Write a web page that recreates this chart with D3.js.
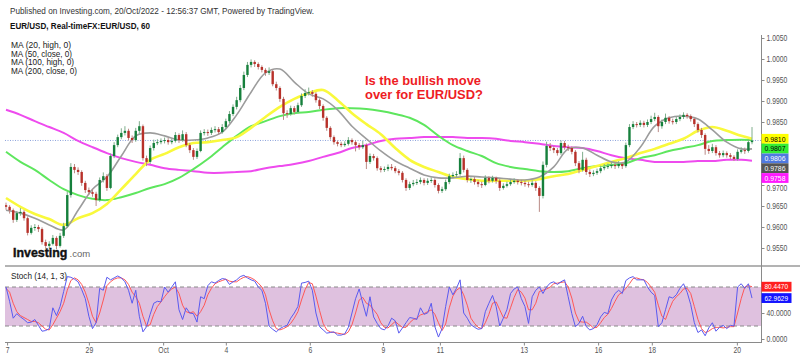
<!DOCTYPE html>
<html><head><meta charset="utf-8">
<script src="https://cdn.jsdelivr.net/npm/d3@7"></script>
<style>body{margin:0;background:#fff;} svg{display:block;font-family:"Liberation Sans",Arial,sans-serif;}</style>
</head><body><svg id="c" width="800" height="357"></svg>
<script>
// ---------- DATA (2-hour candles, EUR/USD) ----------
const firstOpen = 0.9652;
const closes = [0.9648,0.9640,0.9617,0.9633,0.9636,0.9621,0.9586,0.9598,0.9600,0.9595,
0.9564,0.9555,0.9560,0.9574,0.9555,0.9579,0.9602,0.9676,0.9743,0.9736,
0.9731,0.9705,0.9688,0.9683,0.9679,0.9664,0.9712,0.9721,0.9693,0.9769,
0.9795,0.9814,0.9824,0.9829,0.9812,0.9807,0.9829,0.9840,0.9764,0.9755,
0.9788,0.9800,0.9802,0.9805,0.9807,0.9802,0.9805,0.9819,0.9807,0.9821,
0.9795,0.9783,0.9767,0.9781,0.9824,0.9826,0.9824,0.9831,0.9833,0.9826,
0.9838,0.9852,0.9869,0.9886,0.9902,0.9931,0.9962,0.9986,0.9993,0.9988,
0.9981,0.9974,0.9967,0.9971,0.9940,0.9931,0.9905,0.9871,0.9869,0.9883,
0.9874,0.9890,0.9912,0.9919,0.9921,0.9917,0.9902,0.9888,0.9860,0.9836,
0.9814,0.9802,0.9798,0.9795,0.9798,0.9807,0.9802,0.9795,0.9790,0.9795,
0.9755,0.9769,0.9764,0.9740,0.9736,0.9738,0.9743,0.9740,0.9733,0.9729,
0.9712,0.9693,0.9702,0.9705,0.9707,0.9712,0.9705,0.9710,0.9712,0.9700,
0.9686,0.9690,0.9707,0.9721,0.9724,0.9726,0.9764,0.9736,0.9712,0.9714,
0.9707,0.9702,0.9700,0.9717,0.9710,0.9717,0.9710,0.9693,0.9698,0.9702,
0.9707,0.9710,0.9707,0.9705,0.9702,0.9700,0.9705,0.9693,0.9674,0.9748,
0.9793,0.9788,0.9783,0.9776,0.9800,0.9790,0.9788,0.9779,0.9752,0.9736,
0.9760,0.9731,0.9726,0.9729,0.9733,0.9740,0.9743,0.9745,0.9748,0.9745,
0.9750,0.9745,0.9795,0.9838,0.9845,0.9843,0.9848,0.9843,0.9850,0.9857,
0.9862,0.9840,0.9850,0.9860,0.9852,0.9850,0.9857,0.9862,0.9867,0.9864,
0.9857,0.9845,0.9831,0.9819,0.9786,0.9781,0.9790,0.9776,0.9771,0.9776,
0.9771,0.9767,0.9762,0.9779,0.9783,0.9781,0.9802,0.9806];
const highs = [0.9658,0.9652,0.9644,0.9638,0.9645,0.9640,0.9625,0.9604,0.9607,0.9605,
0.9599,0.9570,0.9566,0.9581,0.9578,0.9586,0.9610,0.9684,0.9752,0.9750,
0.9742,0.9735,0.9710,0.9694,0.9690,0.9684,0.9718,0.9730,0.9726,0.9775,
0.9802,0.9820,0.9835,0.9840,0.9834,0.9818,0.9836,0.9852,0.9844,0.9770,
0.9794,0.9808,0.9809,0.9811,0.9813,0.9812,0.9810,0.9826,0.9823,0.9830,
0.9826,0.9800,0.9788,0.9787,0.9830,0.9833,0.9832,0.9837,0.9840,0.9838,
0.9845,0.9858,0.9876,0.9892,0.9910,0.9938,0.9970,0.9993,0.9999,0.9997,
0.9992,0.9985,0.9978,0.9980,0.9975,0.9946,0.9935,0.9910,0.9878,0.9889,
0.9888,0.9896,0.9918,0.9928,0.9932,0.9926,0.9921,0.9906,0.9892,0.9864,
0.9840,0.9818,0.9806,0.9803,0.9804,0.9814,0.9811,0.9806,0.9800,0.9805,
0.9799,0.9775,0.9774,0.9768,0.9745,0.9744,0.9749,0.9750,0.9745,0.9738,
0.9733,0.9716,0.9708,0.9712,0.9714,0.9718,0.9716,0.9716,0.9718,0.9716,
0.9704,0.9696,0.9713,0.9727,0.9730,0.9733,0.9776,0.9770,0.9740,0.9718,
0.9719,0.9712,0.9708,0.9723,0.9721,0.9722,0.9720,0.9714,0.9704,0.9708,
0.9713,0.9716,0.9714,0.9712,0.9710,0.9708,0.9711,0.9709,0.9697,0.9756,
0.9803,0.9800,0.9793,0.9788,0.9806,0.9805,0.9796,0.9792,0.9783,0.9757,
0.9779,0.9765,0.9737,0.9735,0.9739,0.9746,0.9750,0.9751,0.9754,0.9753,
0.9757,0.9755,0.9801,0.9845,0.9852,0.9850,0.9854,0.9853,0.9856,0.9865,
0.9872,0.9866,0.9856,0.9870,0.9864,0.9858,0.9863,0.9868,0.9873,0.9871,
0.9868,0.9861,0.9849,0.9836,0.9823,0.9795,0.9798,0.9795,0.9781,0.9782,
0.9780,0.9776,0.9771,0.9785,0.9790,0.9789,0.9808,0.9838];
const lows = [0.9641,0.9632,0.9610,0.9612,0.9627,0.9615,0.9580,0.9582,0.9591,0.9588,
0.9558,0.9548,0.9549,0.9556,0.9547,0.9551,0.9574,0.9598,0.9670,0.9728,
0.9724,0.9698,0.9681,0.9676,0.9672,0.9650,0.9660,0.9706,0.9686,0.9690,
0.9764,0.9790,0.9809,0.9818,0.9806,0.9800,0.9803,0.9822,0.9758,0.9745,
0.9750,0.9782,0.9795,0.9797,0.9799,0.9796,0.9797,0.9801,0.9800,0.9803,
0.9790,0.9776,0.9760,0.9762,0.9778,0.9818,0.9817,0.9819,0.9825,0.9820,
0.9822,0.9833,0.9847,0.9864,0.9880,0.9897,0.9926,0.9957,0.9980,0.9981,
0.9975,0.9968,0.9960,0.9962,0.9935,0.9925,0.9898,0.9855,0.9860,0.9865,
0.9868,0.9870,0.9886,0.9907,0.9913,0.9910,0.9896,0.9881,0.9853,0.9829,
0.9808,0.9796,0.9792,0.9790,0.9791,0.9794,0.9796,0.9780,0.9784,0.9786,
0.9738,0.9750,0.9758,0.9734,0.9730,0.9731,0.9733,0.9735,0.9728,0.9723,
0.9706,0.9686,0.9688,0.9697,0.9700,0.9702,0.9699,0.9700,0.9705,0.9694,
0.9680,0.9681,0.9686,0.9702,0.9716,0.9719,0.9722,0.9730,0.9706,0.9705,
0.9701,0.9695,0.9693,0.9697,0.9704,0.9706,0.9703,0.9686,0.9689,0.9694,
0.9698,0.9703,0.9701,0.9699,0.9696,0.9694,0.9696,0.9686,0.9636,0.9668,
0.9742,0.9781,0.9776,0.9770,0.9772,0.9784,0.9781,0.9773,0.9745,0.9728,
0.9732,0.9724,0.9719,0.9721,0.9724,0.9728,0.9735,0.9738,0.9740,0.9738,
0.9740,0.9738,0.9741,0.9790,0.9833,0.9837,0.9838,0.9837,0.9838,0.9845,
0.9852,0.9826,0.9834,0.9845,0.9846,0.9844,0.9845,0.9852,0.9857,0.9858,
0.9851,0.9838,0.9825,0.9812,0.9772,0.9774,0.9776,0.9770,0.9765,0.9766,
0.9765,0.9761,0.9757,0.9758,0.9775,0.9774,0.9777,0.9797];

// moving averages, read at these candle indices
const maIdx = [0,4,8,12,16,20,24,28,32,36,40,44,48,52,56,60,64,68,72,76,80,84,88,92,96,100,
104,108,112,116,120,124,128,132,136,140,144,148,152,156,160,164,168,172,176,180,184,188,192,196,200,204,207];
const ma20High = [0.9640,0.9633,0.9621,0.9605,0.9593,0.9640,0.9690,0.9719,0.9769,0.9817,0.9824,0.9817,0.9807,0.9807,0.9812,0.9826,0.9867,0.9921,0.9967,0.9976,0.9945,0.9917,0.9905,0.9879,0.9840,0.9810,0.9781,0.9757,0.9740,0.9724,0.9717,0.9717,0.9721,0.9719,0.9717,0.9714,0.9712,0.9719,0.9743,0.9786,0.9788,0.9771,0.9755,0.9755,0.9790,0.9840,0.9860,0.9864,0.9857,0.9831,0.9802,0.9786,0.9786];
const ma50Close = [0.9669,0.9648,0.9631,0.9619,0.9605,0.9621,0.9633,0.9655,0.9690,0.9726,0.9760,0.9774,0.9790,0.9800,0.9802,0.9807,0.9814,0.9836,0.9862,0.9886,0.9905,0.9919,0.9926,0.9902,0.9871,0.9845,0.9821,0.9788,0.9760,0.9743,0.9731,0.9719,0.9714,0.9710,0.9710,0.9710,0.9710,0.9714,0.9721,0.9726,0.9736,0.9745,0.9755,0.9764,0.9776,0.9786,0.9798,0.9810,0.9829,0.9838,0.9829,0.9817,0.9810];
const ma100High = [0.9779,0.9755,0.9736,0.9712,0.9690,0.9676,0.9667,0.9664,0.9671,0.9681,0.9693,0.9702,0.9717,0.9738,0.9762,0.9790,0.9817,0.9840,0.9852,0.9864,0.9871,0.9874,0.9879,0.9883,0.9883,0.9881,0.9876,0.9869,0.9860,0.9843,0.9817,0.9795,0.9781,0.9769,0.9752,0.9743,0.9738,0.9733,0.9731,0.9733,0.9740,0.9745,0.9748,0.9752,0.9764,0.9771,0.9781,0.9788,0.9795,0.9805,0.9807,0.9808,0.9807];
const ma200Close = [0.9879,0.9867,0.9852,0.9838,0.9824,0.9805,0.9790,0.9776,0.9764,0.9755,0.9748,0.9740,0.9736,0.9733,0.9729,0.9729,0.9731,0.9733,0.9740,0.9745,0.9750,0.9757,0.9767,0.9776,0.9788,0.9795,0.9805,0.9810,0.9812,0.9814,0.9814,0.9814,0.9812,0.9812,0.9810,0.9805,0.9802,0.9798,0.9793,0.9790,0.9788,0.9781,0.9771,0.9764,0.9760,0.9755,0.9755,0.9755,0.9757,0.9757,0.9760,0.9760,0.9758];

// stochastic (14,1,3), one value per candle
const stochK = [80,58,32,39,34,30,25,26,30,21, 12,13,16,48,36,50,73,96,95,92, 88,76,62,35,16,25,78,75,95,91,
94,97,94,88,75,55,75,35,11,19, 38,55,58,57,80,72,80,88,45,30, 48,40,39,26,65,62,82,88,86,90,
93,92,84,88,91,96,98,94,91,89, 80,75,55,20,15,11,16,19,21,32, 40,50,86,87,89,75,40,19,14,9,
10,11,6,6,8,18,40,62,77,55, 35,65,34,24,16,14,20,32,28,9, 17,25,33,32,30,48,38,40,55,19,
3,16,50,80,68,78,91,40,32,22, 18,15,16,42,55,67,50,20,32,45, 70,77,80,62,50,24,65,75,80,70,
80,86,88,84,88,91,65,39,19,24, 35,19,14,16,22,34,41,39,60,70, 75,70,90,94,96,91,91,91,80,72,
67,19,25,45,65,63,68,78,85,72, 53,25,10,14,5,17,25,12,18,21, 16,21,20,80,85,78,85,62.9629];
const stochD = [78,72,55,42,36,33,30,27,27,25, 20,15,14,22,32,42,55,75,90,94, 91,84,72,55,35,25,40,60,82,88,
92,94,94,91,84,72,65,55,35,20, 22,38,50,57,65,72,77,80,70,52, 42,40,42,35,42,52,68,78,85,88,
90,92,89,88,88,92,95,96,94,91, 86,80,68,45,28,16,14,16,19,24, 32,42,60,76,87,85,66,44,24,14,
11,10,9,8,7,11,22,40,60,64, 55,52,45,38,25,18,17,22,27,22, 18,18,25,30,32,37,39,42,45,38,
25,13,23,48,66,75,79,68,52,32, 24,18,16,25,38,55,57,45,33,32, 48,64,76,72,63,45,45,55,73,75,
77,80,85,86,87,88,80,63,40,27, 26,26,22,17,18,25,33,38,47,58, 68,72,78,85,93,94,92,91,87,80,
72,52,35,30,45,58,65,70,77,78, 70,50,30,16,10,12,16,18,18,17, 18,19,19,40,62,80,82,80.4470];

const priceTicks = [1.005,1.0,0.995,0.99,0.985,0.98,0.975,0.97,0.965,0.96,0.955];
const stochTicks = [0,40,80];
const dateIdx = [0.3,23,43.6,61,84.3,104.6,120.4,143.7,164.3,179.2,202.8];
const dateLabels = ["7","29","Oct","4","6","9","11","13","16","18","20"];
const maLegend = ["MA (20, high, 0)","MA (50, close, 0)","MA (100, high, 0)","MA (200, close, 0)"];

// ---------- CHART ----------
const svg = d3.select("#c");
const L = 5, R = 761;
const x = d3.scaleLinear().domain([0, closes.length - 1]).range([6, 752]);
const yP = d3.scaleLinear().domain([0.955, 1.005]).range([248, 38]);
const yS = d3.scaleLinear().domain([0, 100]).range([339, 274]);
const fmt4 = d3.format(".4f");
const opens = closes.map((c, i) => i === 0 ? firstOpen : closes[i - 1]);

function condense(sel, f) {
  sel.each(function () {
    const w = this.getComputedTextLength();
    d3.select(this).attr("textLength", w * f).attr("lengthAdjust", "spacingAndGlyphs");
  });
}

const defs = svg.append("defs");
defs.append("clipPath").attr("id", "cm").append("rect").attr("x", L).attr("y", 30).attr("width", R - L).attr("height", 236);
defs.append("clipPath").attr("id", "cs").append("rect").attr("x", L).attr("y", 267).attr("width", R - L).attr("height", 75);

// stoch band
svg.append("rect").attr("x", L).attr("width", R - L).attr("y", yS(80)).attr("height", yS(20) - yS(80)).attr("fill", "#dfc1df");
[80, 20].forEach(v => svg.append("line").attr("x1", L).attr("x2", R).attr("y1", yS(v)).attr("y2", yS(v))
  .attr("stroke", "#8a8a8a").attr("stroke-dasharray", "4,3").attr("stroke-width", 1));

// frame lines
svg.append("line").attr("x1", L).attr("x2", 800).attr("y1", 266).attr("y2", 266).attr("stroke", "#9a9a9a").attr("stroke-width", 1.5);
svg.append("line").attr("x1", L).attr("x2", R).attr("y1", 342.5).attr("y2", 342.5).attr("stroke", "#8a8a8a");
svg.append("line").attr("x1", R + 0.5).attr("x2", R + 0.5).attr("y1", 35).attr("y2", 343).attr("stroke", "#8a8a8a");

// price line (last close)
const lastClose = closes[closes.length - 1];
svg.append("line").attr("x1", L).attr("x2", R).attr("y1", yP(lastClose)).attr("y2", yP(lastClose))
  .attr("stroke", "#8ea4dc").attr("stroke-dasharray", "1,1.5").attr("stroke-width", 1);

// MAs
const gm = svg.append("g").attr("clip-path", "url(#cm)");
const maDefs = [
  {v: ma200Close, c: "#ee4bee", w: 2},
  {v: ma100High, c: "#5ee65e", w: 2},
  {v: ma50Close, c: "#f9f93c", w: 2.6},
  {v: ma20High, c: "#9c9c9c", w: 1.6}
];
const line = d3.line().x((d, i) => x(maIdx[i])).y(d => yP(d)).curve(d3.curveCatmullRom);
maDefs.forEach(m => gm.append("path").attr("d", line(m.v)).attr("fill", "none").attr("stroke", m.c).attr("stroke-width", m.w));

// candles
const gc = gm.append("g");
closes.forEach((c, i) => {
  const o = opens[i], up = c >= o;
  gc.append("line").attr("x1", x(i)).attr("x2", x(i)).attr("y1", yP(highs[i])).attr("y2", yP(lows[i]))
    .attr("stroke", up ? "#7fae8c" : "#b98a86").attr("stroke-width", 1);
  const y0 = yP(Math.max(o, c)), y1 = yP(Math.min(o, c));
  gc.append("rect").attr("x", x(i) - 1.2).attr("width", 2.4).attr("y", y0).attr("height", Math.max(1, y1 - y0))
    .attr("fill", up ? "#16803c" : "#b8312a");
});

// stochastic lines
const gs = svg.append("g").attr("clip-path", "url(#cs)");
const sline = d3.line().x((d, i) => x(i)).y(d => yS(d));
gs.append("path").attr("d", sline(stochD)).attr("fill", "none").attr("stroke", "#ff5757").attr("stroke-width", 1);
gs.append("path").attr("d", sline(stochK)).attr("fill", "none").attr("stroke", "#5a5af0").attr("stroke-width", 1);

// right-side value tags (computed first so covered tick labels can be skipped)
const tags = [
  {v: ma50Close[ma50Close.length - 1], bg: "#ffff00", fg: "#000"},
  {v: ma100High[ma100High.length - 1], bg: "#33ee33", fg: "#000"},
  {v: lastClose, bg: "#4f79e0", fg: "#fff"},
  {v: ma20High[ma20High.length - 1], bg: "#555555", fg: "#fff"},
  {v: ma200Close[ma200Close.length - 1], bg: "#ff19ff", fg: "#fff"}
].map(t => Object.assign(t, {y: yP(t.v)})).sort((a, b) => a.y - b.y);
let prev = -Infinity;
tags.forEach(t => { t.y = Math.max(t.y, prev + 9.8); prev = t.y; });
const stags = [
  {v: stochD[stochD.length - 1], bg: "#ff1f1f", fg: "#fff", y: yS(stochD[stochD.length - 1])},
  {v: stochK[stochK.length - 1], bg: "#1414ff", fg: "#fff", y: yS(stochK[stochK.length - 1])}
];
const allTags = [...tags, ...stags];
const nearest = yy => d3.min(allTags, t => Math.abs(t.y - yy));

// axes
const ap = svg.append("g").attr("transform", `translate(${R + 0.5},0)`)
  .call(d3.axisRight(yP).tickValues(priceTicks).tickFormat(fmt4).tickSize(3).tickPadding(2));
const as = svg.append("g").attr("transform", `translate(${R + 0.5},0)`)
  .call(d3.axisRight(yS).tickValues(stochTicks).tickFormat(fmt4).tickSize(3).tickPadding(2));
const ax = svg.append("g").attr("transform", "translate(0,342.5)")
  .call(d3.axisBottom(x).tickValues(dateIdx).tickFormat((d, i) => dateLabels[i]).tickSize(3).tickPadding(1));
ap.selectAll(".tick").filter(d => nearest(yP(d)) < 6.5).select("text").remove();
as.selectAll(".tick").filter(d => nearest(yS(d)) < 6.5).select("text").remove();
// labels partly hidden under a tag: nudge them clear of it
ap.selectAll(".tick text").each(function (d) {
  const dist = nearest(yP(d));
  if (dist < 10) d3.select(this).attr("y", 10 - dist);
});
[ap, as, ax].forEach(g => {
  g.select(".domain").remove();
  g.selectAll("line").attr("stroke", "#8a8a8a");
  g.selectAll("text").attr("fill", "#555").attr("font-size", "8.5px").attr("font-family", "Liberation Sans, Arial, sans-serif");
  condense(g.selectAll("text"), 0.8);
});

allTags.forEach(t => {
  const txt = fmt4(t.v);
  const w = txt.length > 6 ? 30 : 27;
  svg.append("rect").attr("x", R + 0.5).attr("y", t.y - 4.9).attr("width", w).attr("height", 9.8).attr("fill", t.bg);
  svg.append("text").attr("x", R + 3.5).attr("y", t.y).attr("dy", "0.34em").attr("font-size", "8px")
    .attr("fill", t.fg).attr("textLength", txt.length > 6 ? 23.5 : 21).attr("lengthAdjust", "spacingAndGlyphs").text(txt);
});

// header texts
svg.append("text").attr("x", 10).attr("y", 14).attr("font-size", "9.5px").attr("fill", "#333")
  .attr("textLength", 304).attr("lengthAdjust", "spacingAndGlyphs")
  .text("Published on Investing.com, 20/Oct/2022 - 12:56:37 GMT, Powered by TradingView.");
svg.append("text").attr("x", 10).attr("y", 28.5).attr("font-size", "9.5px").attr("font-weight", "bold").attr("fill", "#111")
  .attr("textLength", 140).attr("lengthAdjust", "spacingAndGlyphs").text("EUR/USD, Real-timeFX:EUR/USD, 60");
const legW = [60, 61, 63, 66];
maLegend.forEach((s, i) => svg.append("text").attr("x", 11).attr("y", 48 + i * 8.7).attr("font-size", "8.6px").attr("fill", "#222")
  .attr("textLength", legW[i]).attr("lengthAdjust", "spacingAndGlyphs").text(s));
svg.append("text").attr("x", 11).attr("y", 279).attr("font-size", "8.6px").attr("fill", "#222")
  .attr("textLength", 56).attr("lengthAdjust", "spacingAndGlyphs").text("Stoch (14, 1, 3)");

// annotation
svg.append("text").attr("x", 365).attr("y", 84.5).attr("font-size", "13px").attr("font-weight", "bold").attr("fill", "#ee1c24")
  .attr("textLength", 116).attr("lengthAdjust", "spacingAndGlyphs").text("Is the bullish move");
svg.append("text").attr("x", 365).attr("y", 98.5).attr("font-size", "13px").attr("font-weight", "bold").attr("fill", "#ee1c24")
  .attr("textLength", 118).attr("lengthAdjust", "spacingAndGlyphs").text("over for EUR/USD?");

// logo
svg.append("text").attr("x", 13).attr("y", 256.5).attr("font-size", "12.4px").attr("font-weight", "bold").attr("fill", "#111")
  .attr("stroke", "#111").attr("stroke-width", 0.4).text("Investing");
svg.append("text").attr("x", 69.5).attr("y", 256.5).attr("font-size", "9.5px").attr("fill", "#666").text(".com");
</script></body></html>
